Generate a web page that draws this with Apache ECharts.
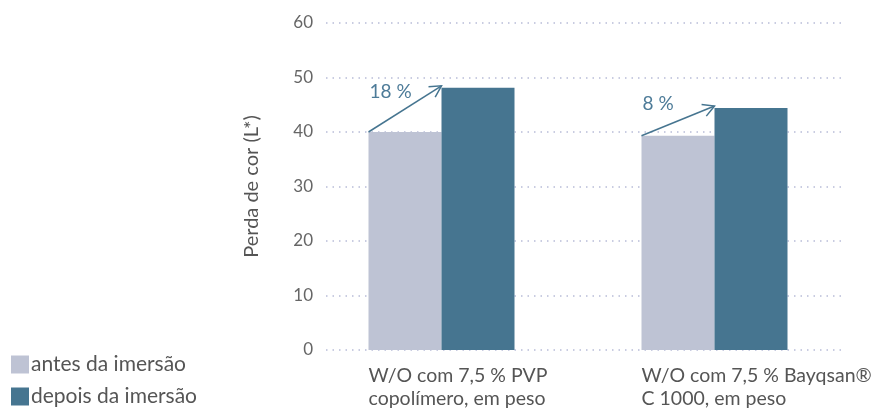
<!DOCTYPE html>
<html>
<head>
<meta charset="utf-8">
<script src="https://cdn.jsdelivr.net/npm/echarts@6/dist/echarts.min.js"></script>
<style>
    html, body { margin: 0; padding: 0; background: #fff; }
    #chart { width: 872px; height: 410px; }
</style>
</head>
<body>
<div id="chart"></div>
<script>
    // categorias e valores
    var categories = ['W/O com 7,5 % PVP\ncopolímero, em peso', 'W/O com 7,5 % Bayqsan®\nC 1000, em peso'];
    var antes = [40.0, 39.3];
    var depois = [48.1, 44.4];
    var aumento = ['18 %', '8 %'];
    var seriesNames = ['antes da imersão', 'depois da imersão'];

    var corClara = '#bec3d4';
    var corEscura = '#467590';
    var barW = 73;
    var fonte = 'Lato, "Open Sans", sans-serif';

    var chart = echarts.init(document.getElementById('chart'));

    // seta + percentagem + rótulo da categoria
    function renderSeta(params, api) {
        var idx = api.value(0);
        var c0 = api.coord([idx, api.value(1)]);
        var c1 = api.coord([idx, api.value(2)]);
        var base = api.coord([idx, 0]);
        var x0 = c0[0] - barW, y0 = c0[1];
        var x1 = c1[0], y1 = c1[1] - 2;
        var ang = Math.atan2(y1 - y0, x1 - x0);
        var L = 13, a = 0.5;
        var h1 = [x1 - L * Math.cos(ang - a), y1 - L * Math.sin(ang - a)];
        var h2 = [x1 - L * Math.cos(ang + a), y1 - L * Math.sin(ang + a)];
        var st = { stroke: corEscura, lineWidth: 1.5, fill: null };
        return {
            type: 'group',
            children: [
                { type: 'line', shape: { x1: x0, y1: y0, x2: x1, y2: y1 }, style: st },
                { type: 'polyline', shape: { points: [h1, [x1, y1], h2] }, style: st },
                { type: 'text', x: x0 + 1, y: (y0 + y1) / 2 - 17,
                  style: { text: aumento[params.dataIndex], fill: '#4d7b98', font: '19px ' + fonte,
                           verticalAlign: 'middle', align: 'left' } },
                { type: 'text', x: x0, y: base[1] + 14,
                  style: { text: categories[params.dataIndex], fill: '#555', font: '19.5px ' + fonte,
                           lineHeight: 23, verticalAlign: 'top', align: 'left' } }
            ]
        };
    }

    // uma legenda por item (empilhadas)
    function legenda(nome, topo) {
        return {
            left: 11, top: topo, padding: 0,
            itemWidth: 18, itemHeight: 18, icon: 'rect',
            data: [nome],
            textStyle: { fontSize: 21, color: '#555', fontFamily: fonte, padding: [0, 0, 0, -3] }
        };
    }

    chart.setOption({
        animation: false,
        legend: [legenda(seriesNames[0], 354), legenda(seriesNames[1], 386)],
        grid: [
            { left: 326, right: 27, top: 23, bottom: 60 },  // linhas de grade
            { left: 305, right: 21, top: 23, bottom: 60 }   // barras
        ],
        xAxis: [
            { gridIndex: 0, type: 'category', data: categories, show: false },
            { gridIndex: 1, type: 'category', data: categories, show: false }
        ],
        yAxis: [
            {
                gridIndex: 0, type: 'value', min: 0, max: 60, interval: 10,
                name: 'Perda de cor (L*)', nameLocation: 'middle', nameGap: 64,
                nameTextStyle: { fontSize: 20, color: '#555', fontFamily: fonte },
                axisLine: { show: false }, axisTick: { show: false },
                axisLabel: { fontSize: 17, color: '#666', margin: 13, fontFamily: fonte },
                splitLine: { lineStyle: { color: '#b8bcd8', type: [1.5, 5], width: 1.5 } }
            },
            { gridIndex: 1, type: 'value', min: 0, max: 60, interval: 10, show: false, splitLine: { show: false } }
        ],
        series: [
            { name: seriesNames[0], type: 'bar', xAxisIndex: 1, yAxisIndex: 1, data: antes,
              barWidth: barW, barGap: '0%', itemStyle: { color: corClara } },
            { name: seriesNames[1], type: 'bar', xAxisIndex: 1, yAxisIndex: 1, data: depois,
              barWidth: barW, barGap: '0%', itemStyle: { color: corEscura } },
            { type: 'custom', xAxisIndex: 1, yAxisIndex: 1, renderItem: renderSeta, clip: false,
              data: antes.map(function (v, i) { return [i, v, depois[i]]; }), z: 5 }
        ]
    });
</script>
</body>
</html>
